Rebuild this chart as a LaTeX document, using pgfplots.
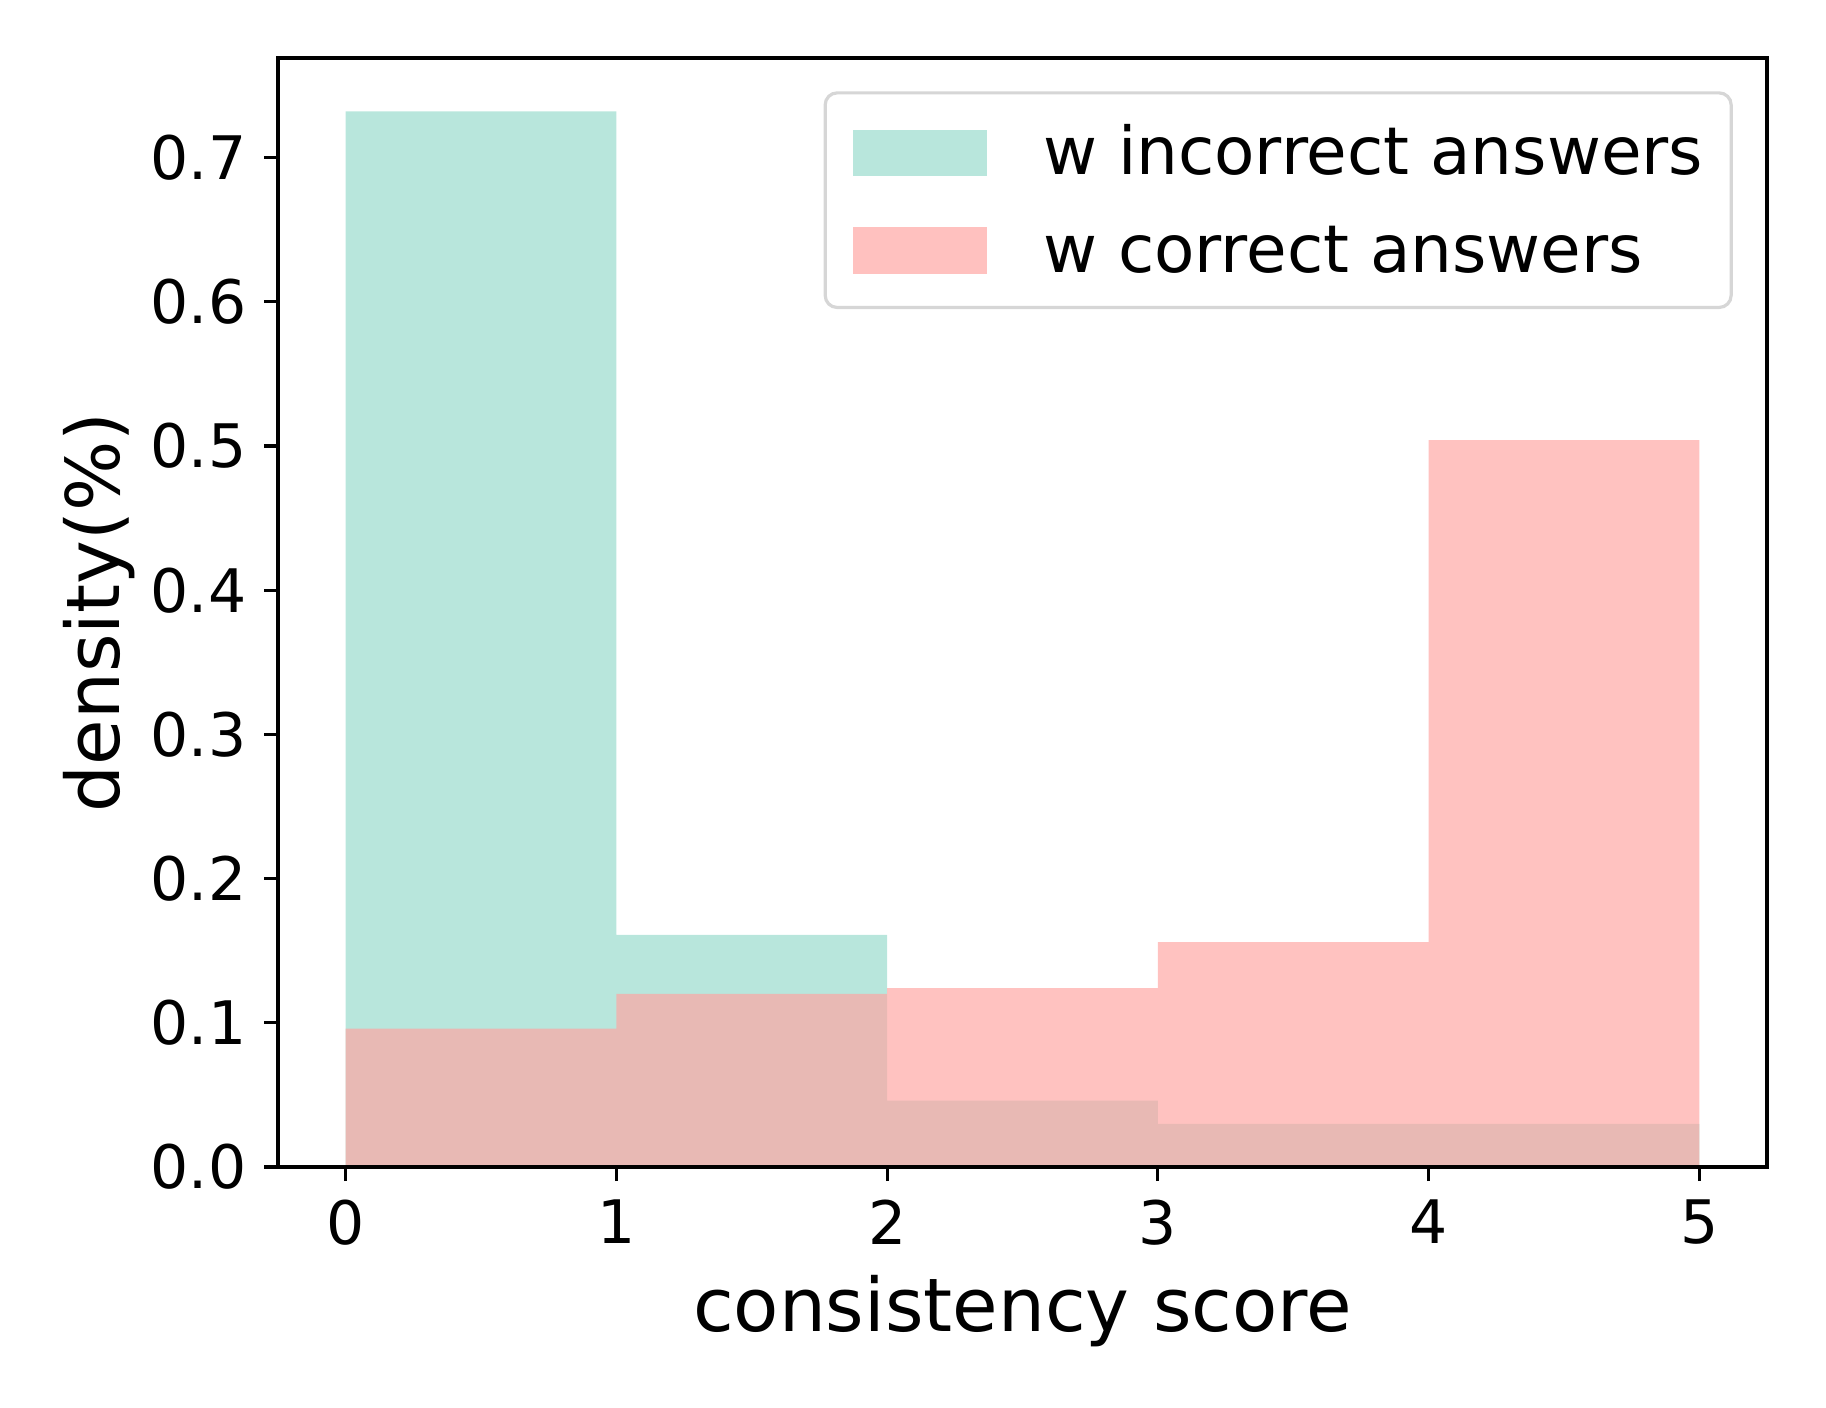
\documentclass[border=0pt]{standalone}
\usepackage{fontspec}
\setmainfont{DejaVu Sans}
\usepackage{pgfplots}
\pgfplotsset{compat=1.18}
\definecolor{tealbar}{RGB}{184,230,220}
\definecolor{pinkbar}{RGB}{255,165,162}
\definecolor{legframe}{RGB}{214,214,214}

\begin{document}
\begin{tikzpicture}
\begin{axis}[
  at={(0,0)}, anchor=south west,
  scale only axis, width=372.25pt, height=277.25pt,
  xmin=-0.25, xmax=5.25, ymin=0, ymax=0.769,
  xtick={0,1,2,3,4,5},
  ytick={0,0.1,0.2,0.3,0.4,0.5,0.6,0.7},
  axis line style={line width=0.8pt},
  tick style={line width=0.8pt, black},
  tick align=outside, major tick length=3.5pt,
  xtick pos=bottom, ytick pos=left,
  axis on top,
  /pgf/number format/assume math mode=true,
  tick label style={font=\fontsize{15}{18}\selectfont, inner sep=0pt},
  yticklabel style={/pgf/number format/fixed, /pgf/number format/fixed zerofill,
                    /pgf/number format/precision=1, anchor=east, xshift=-4.25pt},
  xticklabel style={anchor=north, yshift=-4.5pt},
  xlabel={consistency score},
  ylabel={density(\%)},
  label style={font=\fontsize{18.5}{22}\selectfont, inner sep=0pt},
  xlabel style={at={([yshift=-41pt]axis description cs:0.5,0)}, anchor=base},
  ylabel style={at={([xshift=-39.5pt]axis description cs:0,0.5)}, anchor=base, rotate=0},
  legend style={at={(0.977,0.970)}, anchor=north east,
                draw=legframe, line width=0.8pt, rounded corners=3pt,
                inner xsep=7pt, inner ysep=8.45pt, row sep=11.95pt, column sep=14pt,
                nodes={inner sep=0pt, text height=12pt, text depth=0pt},
                font=\fontsize{16.5}{20}\selectfont},
  legend cell align=left,
]
\addplot[const plot mark left, fill=tealbar, draw=none,
  legend image code/.code={\fill[tealbar, sharp corners] (0pt,-6.4pt) rectangle (33.5pt,5.2pt);}]
  coordinates {(0,0.732)(1,0.161)(2,0.046)(3,0.030)(4,0.030)(5,0.030)} \closedcycle;
\addlegendentry{w incorrect answers}
\addplot[const plot mark left, fill=pinkbar, fill opacity=0.68, draw=none,
  legend image code/.code={\fill[pinkbar, fill opacity=0.68, sharp corners] (0pt,-6.4pt) rectangle (33.5pt,5.2pt);}]
  coordinates {(0,0.096)(1,0.120)(2,0.124)(3,0.156)(4,0.504)(5,0.504)} \closedcycle;
\addlegendentry{w correct answers}
\end{axis}
\pgfresetboundingbox
\path[use as bounding box] (-69.5pt,-60pt) rectangle (387pt,291.75pt);
\end{tikzpicture}
\end{document}
